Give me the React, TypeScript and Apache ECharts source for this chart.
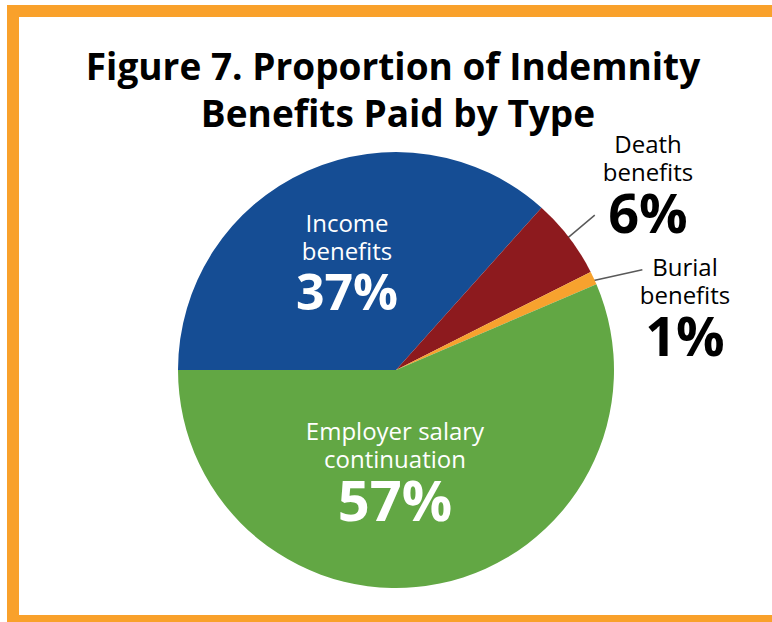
import React, { useEffect, useRef } from "react";
import * as echarts from "echarts";

const categories = ["Income benefits", "Death benefits", "Burial benefits", "Employer salary continuation"];
const labelNames = ["Income\nbenefits", "Death\nbenefits", "Burial\nbenefits", "Employer salary\ncontinuation"];
const values = [37, 6, 1, 57];
const colors = ["#154D94", "#8D1A1E", "#F7A22E", "#62A744"];
const titleLines = ["Figure 7. Proportion of Indemnity", "Benefits Paid by Type"];

const FONT = "'Open Sans', 'Noto Sans', sans-serif";

export default function App() {
  const ref = useRef<HTMLDivElement>(null);
  useEffect(() => {
    document.body.style.margin = "0";
    const chart = echarts.init(ref.current!, null, { renderer: "svg" });
    const CX = 396;
    const CY = 370;
    const R = 218;
    const START = 180;
    const total = values.reduce((a, b) => a + b, 0);
    const mids: number[] = [];
    let acc = 0;
    values.forEach((v) => {
      const span = (v / total) * 360;
      mids.push(START - acc - span / 2);
      acc += span;
    });
    const polar = (r: number, deg: number) => {
      const a = (deg * Math.PI) / 180;
      return [CX + r * Math.cos(a), CY - r * Math.sin(a)];
    };
    const leader: Record<number, [number, number, number]> = {
      1: [205, 252, 0.5],
      2: [207, 266, -2.8],
    };

    const inside = [true, false, false, true];
    const layoutPos: Record<number, { x: number; y: number }> = {
      0: { x: 347, y: 263 },
      1: { x: 648, y: 184 },
      2: { x: 685, y: 307 },
      3: { x: 395, y: 471 },
    };
    const pctSize = [50, 54, 54, 56];
    const data = categories.map((name, i) => ({
      name,
      value: values[i],
      itemStyle: { color: colors[i] },
      label: {
        show: true,
        position: inside[i] ? "inside" : "outside",
        formatter: () =>
          labelNames[i]
            .split("\n")
            .map((l) => `{n|${l}}`)
            .join("\n") + `\n{p|${values[i]}%}`,
        rich: {
          n: {
            fontFamily: FONT,
            fontSize: 24,
            lineHeight: 28,
            color: inside[i] ? "#ffffff" : "#000000",
            align: "center",
          },
          p: {
            fontFamily: FONT,
            fontSize: pctSize[i],
            fontWeight: "bold",
            lineHeight: 54,
            color: inside[i] ? "#ffffff" : "#000000",
            align: "center",
          },
        },
      },
      labelLine: {
        show: !inside[i],
        lineStyle: { color: "#595959", width: 1.5 },
      },
    }));

    chart.setOption({
      animation: false,
      backgroundColor: "#ffffff",
      title: [
        {
          text: titleLines[0],
          left: 388,
          top: 42,
          textAlign: "center",
          textStyle: { fontFamily: FONT, fontSize: 37, fontWeight: "bold", color: "#000" },
        },
        {
          text: titleLines[1],
          left: 393,
          top: 89,
          textAlign: "center",
          textStyle: { fontFamily: FONT, fontSize: 37, fontWeight: "bold", color: "#000" },
        },
      ],
      graphic: [
        { type: "rect", shape: { x: 7, y: 5, width: 765, height: 12 }, style: { fill: "#F9A12B" } },
        { type: "rect", shape: { x: 7, y: 5, width: 12, height: 617 }, style: { fill: "#F9A12B" } },
        { type: "rect", shape: { x: 7, y: 615, width: 765, height: 7 }, style: { fill: "#F9A12B" } },
      ],
      series: [
        {
          type: "pie",
          center: [CX, CY],
          radius: R,
          startAngle: START,
          clockwise: true,
          avoidLabelOverlap: false,
          itemStyle: { borderWidth: 0 },
          data,
          labelLayout: (params: any) => {
            const i = params.dataIndex;
            const p = layoutPos[i];
            const out: any = { x: p.x, y: p.y, align: "center", verticalAlign: "middle" };
            const l = leader[i];
            if (l) {
              out.labelLinePoints = [polar(l[0], mids[i]), polar(l[1], mids[i] + l[2])];
            }
            return out;
          },
        },
      ],
    });
    return () => chart.dispose();
  }, []);
  return <div ref={ref} style={{ width: 772, height: 622 }} />;
}
